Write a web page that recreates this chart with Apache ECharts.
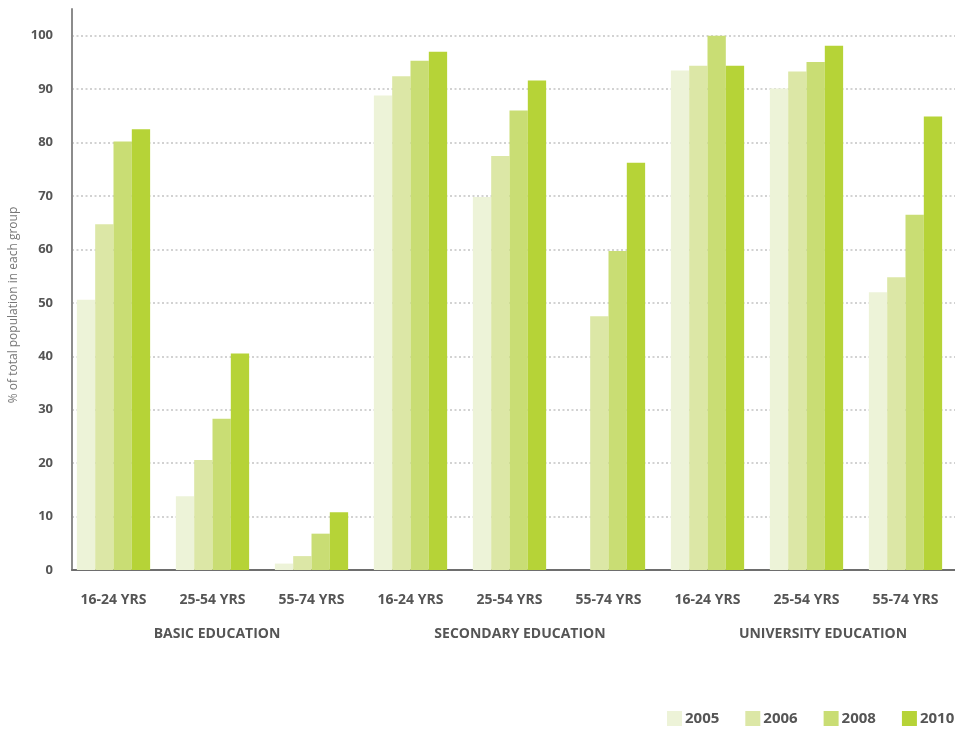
<!DOCTYPE html>
<html>
<head>
<meta charset="utf-8">
<title>Population by education level and age group</title>
<script src="https://cdn.jsdelivr.net/npm/echarts@6/dist/echarts.min.js"></script>
<style>
  html, body { margin: 0; padding: 0; background: #ffffff; }
  #chart { width: 955px; height: 729px; }
</style>
</head>
<body>
<div id="chart"></div>
<script>
// Age bands, repeated for each education level
const ageGroups = ['16-24 YRS', '25-54 YRS', '55-74 YRS',
                   '16-24 YRS', '25-54 YRS', '55-74 YRS',
                   '16-24 YRS', '25-54 YRS', '55-74 YRS'];
const educationLevels = ['BASIC EDUCATION', 'SECONDARY EDUCATION', 'UNIVERSITY EDUCATION'];
const years = ['2005', '2006', '2008', '2010'];

// % of total population in each group
const values2005 = [50.6, 13.8, 1.2, 88.8, 69.8, null, 93.5, 90.1, 52.0];
const values2006 = [64.7, 20.6, 2.6, 92.4, 77.5, 47.5, 94.4, 93.3, 54.8];
const values2008 = [80.2, 28.3, 6.8, 95.3, 86.0, 59.7, 100.0, 95.1, 66.5];
const values2010 = [82.5, 40.5, 10.8, 97.0, 91.6, 76.2, 94.4, 98.1, 84.9];

const yTicks = { min: 0, max: 105, interval: 10 };

const colors = ['#edf3d8', '#dce7a6', '#c9dd74', '#b6d337'];
const font = '"Open Sans", "Noto Sans", sans-serif';
const labelGray = '#555555';

const chart = echarts.init(document.getElementById('chart'), null, { renderer: 'canvas' });

const seriesData = [values2005, values2006, values2008, values2010];

const option = {
  animation: false,
  color: colors,
  textStyle: { fontFamily: font },
  grid: [
    // bars
    { left: 64, right: 0, top: 9, bottom: 159 },
    // axis frame, value labels and dotted grid lines
    { left: 72, right: 0, top: 9, bottom: 159 },
    // education level labels
    { left: 217, width: 606, top: 40, bottom: 159 },
    // value axis title
    { left: 65.5, right: 0, top: 40, bottom: 159 }
  ],
  legend: {
    data: years,
    left: 667,
    top: 711,
    width: 300,
    padding: 0,
    icon: 'rect',
    itemWidth: 15,
    itemHeight: 15,
    itemGap: 26,
    textStyle: { color: labelGray, fontWeight: 'bold', fontSize: 15, fontFamily: font, padding: [0, 0, 0, -2] }
  },
  xAxis: [
    {
      gridIndex: 0,
      type: 'category',
      data: ageGroups,
      axisLine: { show: false },
      axisTick: { show: false },
      axisLabel: { color: labelGray, fontWeight: 'bold', fontSize: 14, fontFamily: font, margin: 23, interval: 0 }
    },
    {
      gridIndex: 1,
      type: 'value',
      min: 0, max: 1,
      axisLine: { show: true, lineStyle: { color: '#6e6e6e', width: 2 } },
      axisTick: { show: false },
      axisLabel: { show: false },
      splitLine: { show: false }
    },
    {
      gridIndex: 2,
      type: 'category',
      data: educationLevels,
      boundaryGap: false,
      axisLine: { show: false },
      axisTick: { show: false },
      axisLabel: { color: labelGray, fontWeight: 'bold', fontSize: 14, fontFamily: font, margin: 57, interval: 0 }
    },
    {
      gridIndex: 3,
      type: 'value',
      min: 0, max: 1,
      show: false
    }
  ],
  yAxis: [
    {
      gridIndex: 0,
      type: 'value',
      min: yTicks.min, max: yTicks.max, interval: yTicks.interval,
      show: false
    },
    {
      gridIndex: 1,
      type: 'value',
      min: yTicks.min, max: yTicks.max, interval: yTicks.interval,
      axisLine: { show: true, lineStyle: { color: '#8c8c8c', width: 2 } },
      axisTick: { show: false },
      axisLabel: {
        color: labelGray, fontWeight: 'bold', fontSize: 13, fontFamily: font, margin: 19,
        showMaxLabel: false,
        formatter: v => (v % 10 === 0 ? String(v) : '')
      },
      splitLine: {
        show: true,
        showMinLine: false,
        showMaxLine: false,
        lineStyle: { color: '#c4c4c4', width: 1.6, type: [2, 2.5] }
      }
    },
    {
      gridIndex: 2,
      type: 'value',
      min: 0, max: 1,
      show: false
    },
    {
      gridIndex: 3,
      type: 'value',
      min: 0, max: 1,
      name: '% of total population in each group',
      nameLocation: 'middle',
      nameRotate: 90,
      nameGap: 47,
      nameTextStyle: { color: '#777777', fontSize: 12, fontFamily: font },
      axisLine: { show: false },
      axisTick: { show: false },
      axisLabel: { show: false },
      splitLine: { show: false }
    }
  ],
  series: years.map((y, i) => ({
    name: y,
    type: 'bar',
    xAxisIndex: 0,
    yAxisIndex: 0,
    data: seriesData[i],
    barGap: '0%',
    barCategoryGap: '26%',
    itemStyle: { color: colors[i] },
    z: 3
  }))
};

chart.setOption(option);
</script>
</body>
</html>
